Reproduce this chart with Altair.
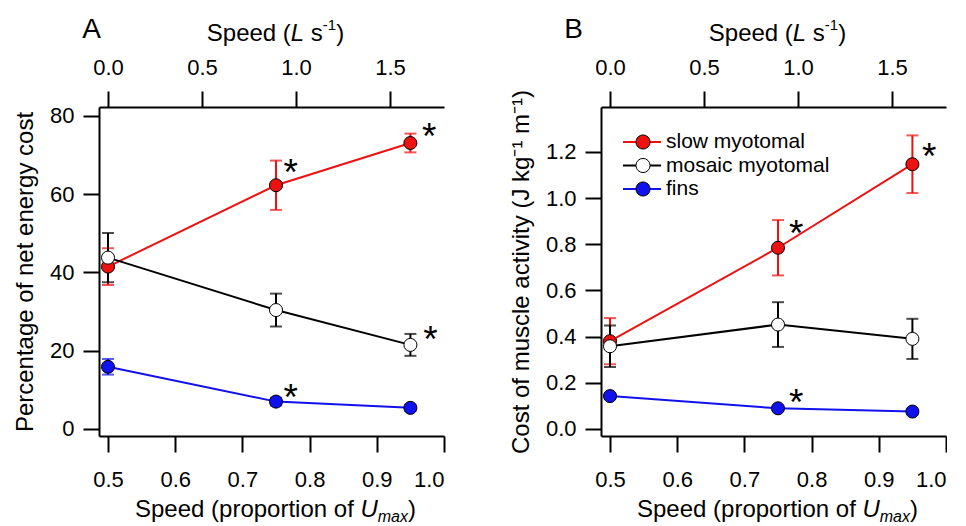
import altair as alt
import pandas as pd

FONT = "Liberation Sans, Arial, sans-serif"

# ---------------- data ----------------
prop = [0.5, 0.75, 0.95]            # speed, proportion of Umax (bottom axis)
speed_Ls = [0.0, 0.89, 1.61]        # speed, L s-1 (top axis)
series = ["slow myotomal", "mosaic myotomal", "fins"]
colors = ["#ee1111", "#000000", "#1111ee"]
fills = ["#ee1111", "#ffffff", "#1111ee"]

# Panel A: percentage of net energy cost
slow_A = [41.5, 62.3, 73.1]
slow_A_err = [4.7, 6.3, 2.4]
mosaic_A = [43.8, 30.4, 21.5]
mosaic_A_err = [6.3, 4.2, 2.8]
fins_A = [15.9, 7.0, 5.4]
fins_A_err = [2.0, 1.0, 0.8]
stars_A_x = [0.772, 0.978, 0.980, 0.772]
stars_A_y = [67.2, 76.3, 24.6, 9.7]

# Panel B: cost of muscle activity
slow_B = [0.38, 0.785, 1.147]
slow_B_err = [0.10, 0.12, 0.125]
mosaic_B = [0.358, 0.452, 0.39]
mosaic_B_err = [0.09, 0.097, 0.087]
fins_B = [0.142, 0.089, 0.075]
fins_B_err = [0.012, 0.006, 0.006]
stars_B_x = [0.777, 0.975, 0.777]
stars_B_y = [0.876, 1.207, 0.142]

x_ticks = [0.5, 0.6, 0.7, 0.8, 0.9, 1.0]
top_ticks = [0.0, 0.5, 1.0, 1.5]
yA_ticks = [0, 20, 40, 60, 80]
yB_ticks = [0.0, 0.2, 0.4, 0.6, 0.8, 1.0, 1.2]

x_domain = [0.4866, 1.0]
top_domain = [-0.0479, 1.787]
yA_domain = [-1.79, 82.3]
yB_domain = [-0.031, 1.395]

W, H = 345, 329

# Arial / Liberation Sans advance widths (per 1000 em) for composing rich titles
ADV = {' ': 278, '(': 333, ')': 333, '-': 333, '.': 278, 'S': 667, 'L': 556,
       'U': 722, 'p': 556, 'e': 556, 'd': 556, 'r': 333, 'o': 556, 't': 278,
       'i': 222, 'n': 556, 'f': 278, 'm': 833, 'a': 556, 'x': 500, 's': 500,
       '1': 556}


def tw(s, size):
    return sum(ADV.get(c, 556) for c in s) * size / 1000.0


one = pd.DataFrame({"k": [0]})


def txt(text, x, y, size, italic=False, align="left", baseline="alphabetic", dy=0):
    return alt.Chart(one).mark_text(
        text=text, fontSize=size, font=FONT, color="black", align=align,
        baseline=baseline, dy=dy, fontStyle="italic" if italic else "normal"
    ).encode(x=alt.value(x), y=alt.value(y))


def rich(pieces, cx, y):
    total = sum(tw(t, s) for t, s, _, _ in pieces)
    x = cx - total / 2
    out = []
    for t, s, it, dy in pieces:
        lead = len(t) - len(t.lstrip())
        x += lead * tw(" ", s)
        core = t.strip()
        out.append(txt(core, x, y, s, italic=it, dy=dy))
        x += tw(core, s) + (len(t) - len(t.rstrip())) * tw(" ", s)
    return out


def panel(vals, errs, sx, sy, ydom, yticks, yfmt, ytitle, label, label_x, legend):
    rows = []
    for s, v, e in zip(series, vals, errs):
        for p, ls, vv, ee in zip(prop, speed_Ls, v, e):
            rows.append(dict(series=s, prop=p, ls=ls, value=vv, lo=vv - ee, hi=vv + ee))
    df = pd.DataFrame(rows)

    xs = alt.Scale(domain=x_domain, nice=False, zero=False)
    ys = alt.Scale(domain=ydom, nice=False, zero=False)
    xaxis = alt.Axis(values=x_ticks, format=".1f", title=None, labelPadding=17, orient="bottom")
    yaxis = alt.Axis(values=yticks, format=yfmt, title=ytitle, labelPadding=9, titlePadding=12)
    X = alt.X("prop:Q", scale=xs, axis=xaxis)

    layers = []
    for s, c, f in zip(series, colors, fills):
        base = alt.Chart(df[df.series == s])
        layers.append(base.mark_line(color=c, strokeWidth=2).encode(
            x=X, y=alt.Y("value:Q", scale=ys, axis=yaxis)))
        layers.append(base.mark_rule(color=c, strokeWidth=2).encode(
            x=X, y=alt.Y("lo:Q", scale=ys, axis=yaxis), y2="hi:Q"))
        for fld in ["lo", "hi"]:
            layers.append(base.mark_tick(color=c, orient="horizontal", size=12, thickness=2).encode(
                x=X, y=alt.Y(f"{fld}:Q", scale=ys, axis=yaxis)))
    for s, c, f in zip(series, colors, fills):
        base = alt.Chart(df[df.series == s])
        layers.append(base.mark_point(filled=True, fill=f, stroke="black", strokeWidth=1,
                                      size=170, opacity=1, shape="circle").encode(
            x=X, y=alt.Y("value:Q", scale=ys, axis=yaxis)))

    sdf = pd.DataFrame({"prop": sx, "value": sy})
    layers.append(alt.Chart(sdf).mark_text(text="*", fontSize=37, font=FONT, color="black",
                                           baseline="alphabetic", dy=19).encode(
        x=X, y=alt.Y("value:Q", scale=ys, axis=yaxis)))

    # titles
    cx = W / 2 + 4
    layers += rich([("Speed (", 24, False, 0), ("L", 24, True, 0), (" s", 24, False, 0),
                    ("-1", 15, False, -11), (")", 24, False, 0)], cx, -66)
    layers += rich([("Speed (proportion of ", 24, False, 0), ("U", 24, True, 0),
                    ("max", 16, True, 5), (")", 24, False, 0)], cx, 410)
    layers.append(txt(label, label_x, -69, 28, align="center"))

    if legend:
        for i, (s, c, f) in enumerate(zip(series, colors, fills)):
            yy = 35 + 23.5 * i
            layers.append(alt.Chart(one).mark_rule(color=c, strokeWidth=2).encode(
                x=alt.value(22), x2=alt.value(60), y=alt.value(yy)))
            layers.append(alt.Chart(one).mark_point(filled=True, fill=f, stroke="black",
                                                    strokeWidth=1, size=200, opacity=1).encode(
                x=alt.value(42), y=alt.value(yy)))
            layers.append(txt(s, 65, yy, 21, baseline="middle"))

    main = alt.layer(*layers)
    top = alt.Chart(df).mark_point(opacity=0).encode(
        x=alt.X("ls:Q", scale=alt.Scale(domain=top_domain, nice=False, zero=False),
                axis=alt.Axis(orient="top", values=top_ticks, format=".1f", title=None,
                              labelPadding=12)),
        y=alt.Y("value:Q", scale=ys, axis=yaxis))
    return alt.layer(main, top).resolve_scale(x="independent").properties(width=W, height=H)


pA = panel([slow_A, mosaic_A, fins_A], [slow_A_err, mosaic_A_err, fins_A_err],
           stars_A_x, stars_A_y, yA_domain, yA_ticks, "d",
           "Percentage of net energy cost", "A", -7.5, False)
pB = panel([slow_B, mosaic_B, fins_B], [slow_B_err, mosaic_B_err, fins_B_err],
           stars_B_x, stars_B_y, yB_domain, yB_ticks, ".1f",
           "Cost of muscle activity (J kg\u207b\u00b9 m\u207b\u00b9)", "B", -27.5, True)

chart = alt.hconcat(pA, pB, spacing=64).properties(
    padding={"left": 5, "top": 8, "right": 0, "bottom": 0}
).configure_axis(
    domainColor="black", domainWidth=2, tickColor="black", tickWidth=2, tickSize=16,
    labelFont=FONT, labelFontSize=22, labelColor="black",
    titleFont=FONT, titleFontSize=24, titleFontWeight="normal", titleColor="black",
    grid=False
).configure_view(stroke=None)

chart.save("out.html", embed_options={"renderer": "svg", "actions": False})
